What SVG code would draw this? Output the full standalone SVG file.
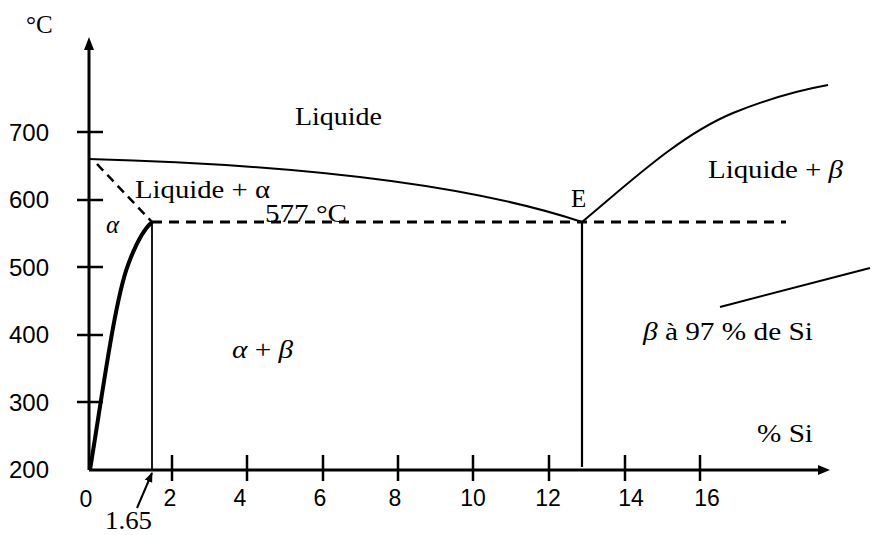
<svg xmlns="http://www.w3.org/2000/svg" width="878" height="535" viewBox="0 0 878 535">
<style>
.ax{stroke:#000;stroke-width:3;fill:none}
.tk{stroke:#000;stroke-width:2.5}
.ln{stroke:#000;stroke-width:2;fill:none}
.dash{stroke:#000;stroke-width:3;stroke-dasharray:10 7;fill:none}
.num{font-family:"Liberation Sans",Arial,sans-serif;font-size:24px;fill:#000}
.xn{font-family:"Liberation Sans",Arial,sans-serif;font-size:23px;fill:#000;text-anchor:middle}
.lb{font-family:"Liberation Serif","Times New Roman",serif;font-size:25px;fill:#000}
.gr{font-family:"Liberation Serif","Times New Roman",serif;font-size:25px;font-style:italic;fill:#000}
</style>
<defs>
<marker id="ah2" viewBox="0 0 10 10" refX="9" refY="5" markerWidth="10" markerHeight="10" markerUnits="userSpaceOnUse" orient="auto">
<path d="M0,1 L10,5 L0,9 z" fill="#000"/>
</marker>
</defs>
<rect width="878" height="535" fill="#fff"/>
<g id="axes">
<line class="ax" x1="89" y1="470" x2="89" y2="44"/>
<path d="M89,37 L84,50 L94,50 z" fill="#000"/>
<line class="ax" x1="89" y1="470" x2="822" y2="470"/>
<path d="M830,470 L818,465 L818,475 z" fill="#000"/>
<g id="yticks">
<line class="tk" x1="77" y1="132" x2="103" y2="132"/>
<line class="tk" x1="77" y1="200" x2="103" y2="200"/>
<line class="tk" x1="77" y1="267" x2="103" y2="267"/>
<line class="tk" x1="77" y1="335" x2="103" y2="335"/>
<line class="tk" x1="77" y1="402" x2="103" y2="402"/>
</g>
<g id="xticks">
<line class="tk" x1="172" y1="455" x2="172" y2="481"/>
<line class="tk" x1="247" y1="455" x2="247" y2="481"/>
<line class="tk" x1="323" y1="455" x2="323" y2="481"/>
<line class="tk" x1="398" y1="455" x2="398" y2="481"/>
<line class="tk" x1="473" y1="455" x2="473" y2="481"/>
<line class="tk" x1="549" y1="455" x2="549" y2="481"/>
<line class="tk" x1="625" y1="455" x2="625" y2="481"/>
<line class="tk" x1="700" y1="455" x2="700" y2="481"/>
</g>
<g id="ylabels">
<text class="num" x="9" y="141">700</text>
<text class="num" x="9" y="208">600</text>
<text class="num" x="9" y="276">500</text>
<text class="num" x="9" y="343">400</text>
<text class="num" x="9" y="411">300</text>
<text class="num" x="9" y="478">200</text>
</g>
<g id="xlabels">
<text class="xn" x="86" y="507">0</text>
<text class="xn" x="170" y="506">2</text>
<text class="xn" x="240" y="506">4</text>
<text class="xn" x="320" y="506">6</text>
<text class="xn" x="395" y="506">8</text>
<text class="xn" x="473" y="506">10</text>
<text class="xn" x="548" y="506">12</text>
<text class="xn" x="631" y="506">14</text>
<text class="xn" x="707" y="506">16</text>
</g>
<text class="lb" x="26" y="33" font-size="24">°C</text>
<text class="lb" x="757" y="442" textLength="56" lengthAdjust="spacingAndGlyphs">% Si</text>
</g>
<g id="curves">
<path id="liquidus-left" class="ln" d="M89,159 Q 420,168 582,222"/>
<path id="liquidus-right" class="ln" d="M582,222 C 630,182 680,135 733,113 C 770,98 800,90 828,85"/>
<path id="solvus" d="M90,470 C 103,390 115,300 128,265 C 136,243 143,230 152,222" stroke="#000" stroke-width="4" fill="none"/>
<line id="solidus" x1="97" y1="164" x2="152" y2="222" stroke="#000" stroke-width="2.5" stroke-dasharray="9 6"/>
<line id="eutectic" class="dash" x1="152" y1="222" x2="786" y2="222"/>
<line id="v165" x1="152" y1="222" x2="152" y2="470" stroke="#000" stroke-width="1.8"/>
<line id="vE" x1="582" y1="222" x2="582" y2="467" stroke="#000" stroke-width="2.2"/>
<line id="beta-line" x1="720" y1="307" x2="870" y2="268" stroke="#000" stroke-width="2"/>
</g>
<g id="connectors">
<line x1="137" y1="508" x2="152" y2="473" stroke="#000" stroke-width="2" marker-end="url(#ah2)"/>
</g>
<g id="labels">
<text class="lb" x="295" y="125" textLength="87" lengthAdjust="spacingAndGlyphs">Liquide</text>
<text class="lb" x="135" y="198" textLength="135" lengthAdjust="spacingAndGlyphs">Liquide + α</text>
<text class="lb" x="265" y="222" font-size="27" textLength="82" lengthAdjust="spacingAndGlyphs">577 °C</text>
<text class="lb" x="708" y="178" textLength="135" lengthAdjust="spacingAndGlyphs">Liquide + <tspan font-style="italic">β</tspan></text>
<text class="lb" x="571" y="207">E</text>
<text class="gr" x="106" y="233">α</text>
<text class="lb" x="232" y="358" textLength="61" lengthAdjust="spacingAndGlyphs"><tspan font-style="italic">α</tspan> + <tspan font-style="italic">β</tspan></text>
<text class="lb" x="643" y="340" textLength="170" lengthAdjust="spacingAndGlyphs"><tspan font-style="italic">β</tspan> à 97 % de Si</text>
<text class="lb" x="105" y="529" font-size="24" textLength="47" lengthAdjust="spacingAndGlyphs">1.65</text>
</g>
</svg>
